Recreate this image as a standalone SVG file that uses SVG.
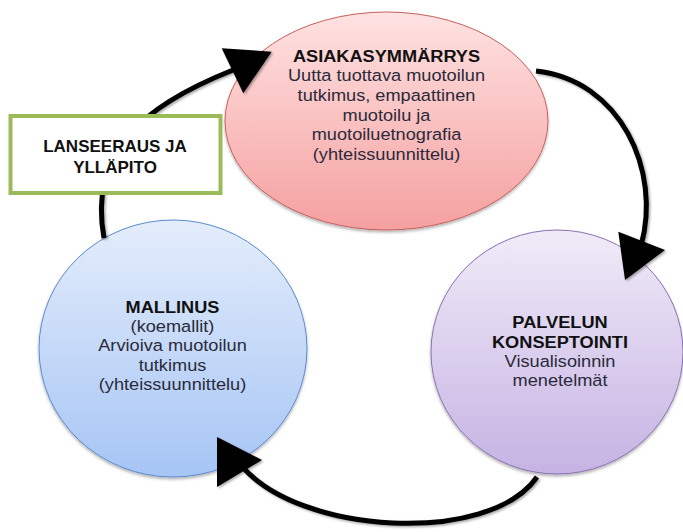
<svg xmlns="http://www.w3.org/2000/svg" width="683" height="532" viewBox="0 0 683 532">
  <style>
    .title { font-family: "Liberation Sans", Arial, sans-serif; font-size: 17px; font-weight: bold; fill: #111111; text-anchor: middle; }
    .body { font-family: "Liberation Sans", Arial, sans-serif; font-size: 17px; fill: #2a2a3a; text-anchor: middle; }
    .line { fill: none; stroke: #000000; stroke-width: 5; }
    .head { fill: #000000; stroke: none; }
    .box { fill: #ffffff; stroke: #9bbb59; stroke-width: 4; }
  </style>
  <defs>
    <linearGradient id="gRed" x1="0" y1="0" x2="0" y2="1">
      <stop offset="0" stop-color="#ffe2e2"/>
      <stop offset="1" stop-color="#f5a0a0"/>
    </linearGradient>
    <linearGradient id="gBlue" x1="0" y1="0" x2="0" y2="1">
      <stop offset="0" stop-color="#e4edfb"/>
      <stop offset="1" stop-color="#a6c5f5"/>
    </linearGradient>
    <linearGradient id="gPurple" x1="0" y1="0" x2="0" y2="1">
      <stop offset="0" stop-color="#f0ebf8"/>
      <stop offset="1" stop-color="#c6b3e3"/>
    </linearGradient>
    <filter id="shadow" x="-10%" y="-10%" width="120%" height="125%">
      <feDropShadow dx="0" dy="2" stdDeviation="1.5" flood-color="#000000" flood-opacity="0.3"/>
    </filter>
    <filter id="lineShadow" x="-10%" y="-10%" width="120%" height="120%">
      <feDropShadow dx="1.5" dy="1.5" stdDeviation="1" flood-color="#000000" flood-opacity="0.35"/>
    </filter>
  </defs>

  <rect x="0" y="0" width="683" height="532" fill="#ffffff"/>

  <g id="node-asiakasymmarrys">
    <ellipse cx="386.5" cy="121" rx="161.5" ry="109" fill="url(#gRed)" stroke="#c9605e" stroke-width="1" filter="url(#shadow)"/>
    <g transform="translate(386.5 0) scale(1.07 1)">
      <text class="title" x="0" y="62">ASIAKASYMMÄRRYS</text>
      <text class="body" x="0" y="81.5">Uutta tuottava muotoilun</text>
      <text class="body" x="0" y="101">tutkimus, empaattinen</text>
      <text class="body" x="0" y="121">muotoilu ja</text>
      <text class="body" x="0" y="140.5">muotoiluetnografia</text>
      <text class="body" x="0" y="160">(yhteissuunnittelu)</text>
    </g>
  </g>

  <g id="node-palvelun-konseptointi">
    <ellipse cx="557" cy="352" rx="126" ry="122" fill="url(#gPurple)" stroke="#8a70b4" stroke-width="1" filter="url(#shadow)"/>
    <g transform="translate(560 0) scale(1.07 1)">
      <text class="title" x="0" y="327.5">PALVELUN</text>
      <text class="title" x="0" y="348">KONSEPTOINTI</text>
      <text class="body" x="0" y="367.5">Visualisoinnin</text>
      <text class="body" x="0" y="386.5">menetelmät</text>
    </g>
  </g>

  <g id="node-mallinus">
    <ellipse cx="173" cy="348.5" rx="134" ry="128.5" fill="url(#gBlue)" stroke="#5b8bd0" stroke-width="1" filter="url(#shadow)"/>
    <g transform="translate(172.5 0) scale(1.07 1)">
      <text class="title" x="0" y="313">MALLINUS</text>
      <text class="body" x="0" y="332">(koemallit)</text>
      <text class="body" x="0" y="351.5">Arvioiva muotoilun</text>
      <text class="body" x="0" y="371">tutkimus</text>
      <text class="body" x="0" y="390">(yhteissuunnittelu)</text>
    </g>
  </g>

  <g id="connectors" filter="url(#lineShadow)">
    <path class="line" d="M104,238 C88,150 145,105 233,70"/>
    <polygon class="head" points="221.7,48.3 271.7,51.7 243.3,93.3"/>
    <path class="line" d="M536,71 C620,80 662,170 641,246"/>
    <polygon class="head" points="618.3,231.7 665,250 625,280"/>
    <path class="line" d="M537,477 C490,545 298,536 240,464"/>
    <polygon class="head" points="217,437 262,460 217,487"/>
  </g>

  <g id="node-lanseeraus">
    <rect class="box" x="10.5" y="116" width="210" height="77"/>
    <text class="title" x="115" y="152">LANSEERAUS JA</text>
    <text class="title" x="115" y="173">YLLÄPITO</text>
  </g>
</svg>
